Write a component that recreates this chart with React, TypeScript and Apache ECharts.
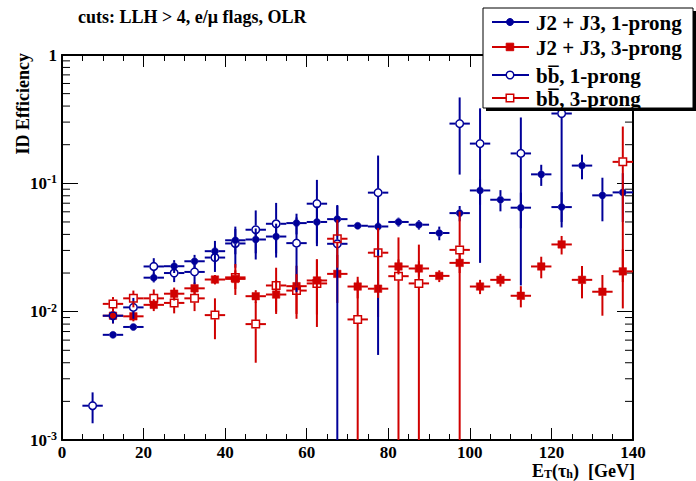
import React, { useEffect, useRef } from 'react';
import * as echarts from 'echarts';

// ---- data (bin centres in GeV, efficiencies and their errors) ----
const bins = [7.5, 12.5, 17.5, 22.5, 27.5, 32.5, 37.5, 42.5, 47.5, 52.5, 57.5, 62.5, 67.5, 72.5, 77.5, 82.5, 87.5, 92.5, 97.5, 102.5, 107.5, 112.5, 117.5, 122.5, 127.5, 132.5, 137.5];

const j23OneProng = [null, 0.0066, 0.0076, 0.0184, 0.0226, 0.0247, 0.0296, 0.036, 0.0365, 0.0385, 0.049, 0.050, 0.0526, 0.0467, 0.0461, 0.050, 0.0476, 0.041, 0.0586, 0.088, 0.0745, 0.0646, 0.1175, 0.0653, 0.1375, 0.0806, 0.085];
const j23OneProngErr = [null, 0.0003, 0.0004, 0.0015, 0.0026, 0.003, 0.006, 0.008, 0.008, 0.01, 0.009, 0.016, 0.014, 0.003, 0.004, 0.004, 0.004, 0.005, 0.008, 0.02, 0.014, 0.02, 0.022, 0.02, 0.03, 0.03, 0.035];

const j23ThreeProng = [null, 0.0093, 0.0092, 0.0113, 0.0138, 0.0152, 0.0178, 0.018, 0.0132, 0.0136, 0.0158, 0.0175, 0.0197, 0.0157, 0.0151, 0.0225, 0.0217, 0.019, 0.024, 0.0157, 0.0177, 0.0133, 0.0225, 0.0334, 0.0177, 0.0143, 0.0206];
const j23ThreeProngErr = [null, 0.0012, 0.0008, 0.0012, 0.0016, 0.0017, 0.0015, 0.003, 0.0015, 0.004, 0.007, 0.008, 0.008, 0.003, 0.006, 0.003, 0.003, 0.002, 0.004, 0.002, 0.002, 0.0025, 0.0043, 0.0055, 0.005, 0.005, 0.01];

const bbOneProng = [0.00185, 0.0093, 0.0108, 0.0225, 0.020, 0.0204, 0.0264, 0.034, 0.0435, 0.0484, 0.0342, 0.0694, 0.0338, null, 0.0846, null, null, null, 0.292, 0.204, null, 0.171, null, 0.35, null, null, null];
const bbOneProngErr = [0.0005, 0.0012, 0.002, 0.0036, 0.003, 0.004, 0.006, 0.012, 0.018, 0.022, 0.02, 0.037, 0.034, null, 0.08, null, null, null, 0.175, 0.18, null, 0.155, null, 0.30, null, null, null];

const bbThreeProng = [null, 0.0115, 0.0127, 0.0127, 0.0117, 0.0127, 0.0094, 0.0185, 0.0080, 0.016, 0.0146, 0.0166, 0.037, 0.0087, 0.0288, 0.0189, 0.0166, null, 0.0303, null, null, null, null, null, null, null, 0.147];
const bbThreeProngErr = [null, 0.0015, 0.0019, 0.0022, 0.002, 0.0026, 0.0033, 0.005, 0.004, 0.006, 0.005, 0.009, 0.015, 0.0088, 0.016, 0.019, 0.0167, null, 0.03, null, null, null, null, null, null, null, 0.13];

const xTicks = [0, 20, 40, 60, 80, 100, 120, 140];
const yMinorTicks = [0.002, 0.003, 0.004, 0.005, 0.006, 0.007, 0.008, 0.009, 0.02, 0.03, 0.04, 0.05, 0.06, 0.07, 0.08, 0.09, 0.2, 0.3, 0.4, 0.5, 0.6, 0.7, 0.8, 0.9];

const seriesNames = ['J2 + J3, 1-prong', 'J2 + J3, 3-prong', 'bb\u0305, 1-prong', 'bb\u0305, 3-prong'];

const BLUE = '#000099';
const RED = '#d00000';
const FONT = 'Liberation Serif';
const HALF_BIN = 2.5;
const Y_MIN = 0.001;
const Y_MAX = 1;

function toData(vals: (number | null)[], errs: (number | null)[]) {
  const out: number[][] = [];
  bins.forEach((b, i) => {
    const v = vals[i];
    if (v != null) out.push([b, v, errs[i] ?? 0]);
  });
  return out;
}

function makeRenderer(color: string, shape: 'circle' | 'square', filled: boolean) {
  return (params: any, api: any) => {
    const x = api.value(0) as number;
    const y = api.value(1) as number;
    const e = api.value(2) as number;
    const p = api.coord([x, y]);
    const xl = api.coord([x - HALF_BIN, y])[0];
    const xr = api.coord([x + HALF_BIN, y])[0];
    const yt = api.coord([x, Math.min(y + e, Y_MAX)])[1];
    const yb = api.coord([x, Math.max(y - e, Y_MIN)])[1];
    const g = filled ? 3.5 : 4.2;
    const ls = { stroke: color, lineWidth: 2 };
    const children: any[] = [];
    const seg = (x1: number, y1: number, x2: number, y2: number) => {
      if (Math.abs(x2 - x1) + Math.abs(y2 - y1) > 0.5) {
        children.push({ type: 'line', shape: { x1, y1, x2, y2 }, style: ls });
      }
    };
    seg(xl, p[1], p[0] - g, p[1]);
    seg(p[0] + g, p[1], xr, p[1]);
    if (yt < p[1] - g) seg(p[0], yt, p[0], p[1] - g);
    if (yb > p[1] + g) seg(p[0], p[1] + g, p[0], yb);
    const mstyle = filled
      ? { fill: color, stroke: color, lineWidth: 0.5 }
      : { fill: 'none', stroke: color, lineWidth: 1.5 };
    if (shape === 'circle') {
      children.push({ type: 'circle', shape: { cx: p[0], cy: p[1], r: filled ? 3.5 : 3.8 }, style: mstyle });
    } else {
      const s = 7.5;
      children.push({ type: 'rect', shape: { x: p[0] - s / 2, y: p[1] - s / 2, width: s, height: s }, style: mstyle });
    }
    return { type: 'group', children };
  };
}

function legendGraphics() {
  const rows = [
    { y: 22, color: BLUE, shape: 'circle', filled: true },
    { y: 47, color: RED, shape: 'square', filled: true },
    { y: 75, color: BLUE, shape: 'circle', filled: false },
    { y: 98, color: RED, shape: 'square', filled: false },
  ];
  const els: any[] = [
    { type: 'rect', shape: { x: 486, y: 11, width: 212, height: 100 }, style: { fill: '#000' }, z: 100 },
    { type: 'rect', shape: { x: 483, y: 8, width: 210, height: 100 }, style: { fill: '#fff', stroke: '#000', lineWidth: 1 }, z: 101 },
  ];
  rows.forEach((r, i) => {
    els.push({ type: 'line', shape: { x1: 492, y1: r.y, x2: 529, y2: r.y }, style: { stroke: r.color, lineWidth: 2 }, z: 102 });
    const st = r.filled ? { fill: r.color, stroke: r.color } : { fill: '#fff', stroke: r.color, lineWidth: 1.5 };
    if (r.shape === 'circle') {
      els.push({ type: 'circle', shape: { cx: 510, cy: r.y, r: r.filled ? 3.5 : 3.8 }, style: st, z: 103 });
    } else {
      els.push({ type: 'rect', shape: { x: 506.2, y: r.y - 3.8, width: 7.5, height: 7.5 }, style: st, z: 103 });
    }
    els.push({
      type: 'text', x: 536, y: r.y + 1, z: 103,
      style: { text: seriesNames[i], fill: '#000', fontFamily: FONT, fontWeight: 'bold', fontSize: 21, textAlign: 'left', textVerticalAlign: 'middle' },
    });
  });
  return els;
}

export default function App() {
  const ref = useRef<HTMLDivElement>(null);
  useEffect(() => {
    if (!ref.current) return;
    const chart = echarts.init(ref.current, undefined, { renderer: 'svg' });
    const axisLabel = { color: '#000', fontSize: 17, fontWeight: 'bold' as const, fontFamily: FONT };
    const xCommon = {
      type: 'value' as const, min: 0, max: 140, interval: 20,
      axisLine: { show: true, onZero: false, lineStyle: { color: '#000', width: 2 } },
      axisTick: { show: true, inside: true, length: 12, lineStyle: { color: '#000', width: 1 } },
      minorTick: { show: true, splitNumber: 4, length: 6, lineStyle: { color: '#000', width: 1 } },
      splitLine: { show: false },
    };
    const yCommon = {
      type: 'log' as const, logBase: 10, min: Y_MIN, max: Y_MAX,
      axisLine: { show: true, onZero: false, lineStyle: { color: '#000', width: 2 } },
      axisTick: { show: true, inside: true, length: 16, lineStyle: { color: '#000', width: 1 } },
      splitLine: { show: false },
    };
    const option: any = {
      animation: false,
      backgroundColor: '#fff',
      grid: { left: 62, right: 63, top: 55, bottom: 41, containLabel: false },
      xAxis: [
        {
          ...xCommon, position: 'bottom',
          axisLabel: { ...axisLabel, margin: 4, lineHeight: 16, formatter: (v: number) => (xTicks.includes(v) ? String(v) : '') },
        },
        { ...xCommon, position: 'top', axisLabel: { show: false } },
      ],
      yAxis: [
        {
          ...yCommon, position: 'left',
          axisLabel: {
            margin: 5,
            formatter: (v: number) => {
              const e = Math.round(Math.log10(v));
              return e === 0 ? '{b|1}' : `{b|10}{s|${e}}`;
            },
            rich: {
              b: { ...axisLabel },
              s: { ...axisLabel, fontSize: 12, verticalAlign: 'top', padding: [0, 0, 8, 0] },
            },
          },
        },
        { ...yCommon, position: 'right', axisLabel: { show: false } },
      ],
      graphic: [
        {
          type: 'text', x: 78, y: 17,
          style: { text: 'cuts: LLH > 4, e/\u03bc flags, OLR', fill: '#000', fontFamily: FONT, fontWeight: 'bold', fontSize: 18, textVerticalAlign: 'middle' },
        },
        {
          type: 'text', x: 23, y: 53, rotation: Math.PI / 2,
          style: { text: 'ID Efficiency', fill: '#000', fontFamily: FONT, fontWeight: 'bold', fontSize: 18, textAlign: 'right', textVerticalAlign: 'middle' },
        },
        {
          type: 'text', x: 635, y: 471,
          style: {
            text: '{b|E}{s|T}{b|(\u03c4}{s|h}{b|)  [GeV]}',
            textAlign: 'right', textVerticalAlign: 'middle',
            rich: {
              b: { fill: '#000', fontFamily: FONT, fontWeight: 'bold', fontSize: 18, lineHeight: 16 },
              s: { fill: '#000', fontFamily: FONT, fontWeight: 'bold', fontSize: 12, verticalAlign: 'bottom', padding: [6, 0, 0, 0] },
            },
          },
        },
        ...legendGraphics(),
      ],
      series: [
        {
          type: 'custom', name: 'minorTicks', silent: true, clip: false,
          xAxisIndex: 0, yAxisIndex: 0,
          data: yMinorTicks.map((v) => [0, v]),
          encode: { x: 0, y: 1 },
          renderItem: (params: any, api: any) => {
            const v = api.value(1) as number;
            const l = api.coord([0, v]);
            const r = api.coord([140, v]);
            return {
              type: 'group',
              children: [
                { type: 'line', shape: { x1: l[0], y1: l[1], x2: l[0] + 8, y2: l[1] }, style: { stroke: '#000', lineWidth: 1 } },
                { type: 'line', shape: { x1: r[0] - 8, y1: r[1], x2: r[0], y2: r[1] }, style: { stroke: '#000', lineWidth: 1 } },
              ],
            };
          },
        },
        {
          type: 'custom', name: seriesNames[0], clip: true, xAxisIndex: 0, yAxisIndex: 0,
          data: toData(j23OneProng, j23OneProngErr), encode: { x: 0, y: 1 },
          renderItem: makeRenderer(BLUE, 'circle', true),
        },
        {
          type: 'custom', name: seriesNames[1], clip: true, xAxisIndex: 0, yAxisIndex: 0,
          data: toData(j23ThreeProng, j23ThreeProngErr), encode: { x: 0, y: 1 },
          renderItem: makeRenderer(RED, 'square', true),
        },
        {
          type: 'custom', name: seriesNames[2], clip: true, xAxisIndex: 0, yAxisIndex: 0,
          data: toData(bbOneProng, bbOneProngErr), encode: { x: 0, y: 1 },
          renderItem: makeRenderer(BLUE, 'circle', false),
        },
        {
          type: 'custom', name: seriesNames[3], clip: true, xAxisIndex: 0, yAxisIndex: 0,
          data: toData(bbThreeProng, bbThreeProngErr), encode: { x: 0, y: 1 },
          renderItem: makeRenderer(RED, 'square', false),
        },
      ],
    };
    chart.setOption(option);
    return () => chart.dispose();
  }, []);
  return <div ref={ref} style={{ position: 'fixed', left: 0, top: 0, width: 696, height: 481 }} />;
}
